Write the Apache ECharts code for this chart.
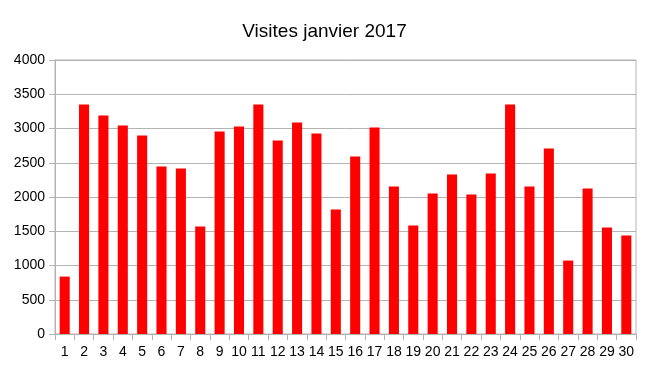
<!DOCTYPE html>
<html>
<head>
<meta charset="utf-8">
<script src="https://cdn.jsdelivr.net/npm/echarts@6/dist/echarts.min.js"></script>
<style>html,body{margin:0;padding:0;background:#fff}#c{width:649px;height:365px}</style>
</head>
<body>
<div id="c"></div>
<script>
const titleText = "Visites janvier 2017";
const days = ["1","2","3","4","5","6","7","8","9","10","11","12","13","14","15","16","17","18","19","20","21","22","23","24","25","26","27","28","29","30"];
const visits = [838,3352,3191,3045,2899,2446,2417,1569,2957,3030,3352,2826,3089,2928,1817,2592,3016,2153,1583,2051,2329,2036,2343,3352,2153,2709,1072,2124,1554,1437];
const yTicks = {min:0, max:4000, interval:500};

const chart = echarts.init(document.getElementById('c'), null, {renderer:'canvas'});
const font = '"Liberation Sans", Arial, sans-serif';
chart.setOption({
  animation:false,
  backgroundColor:'#ffffff',
  title:{text:titleText, left:'center', top:17, textStyle:{fontFamily:font, fontSize:19, fontWeight:'normal', color:'#000'}},
  grid:{left:55, right:13, top:60, bottom:31, show:true, borderColor:'#b3b3b3', borderWidth:1},
  xAxis:{type:'category', data:days,
    axisLine:{lineStyle:{color:'#b3b3b3', width:1}},
    axisTick:{show:true, length:6, lineStyle:{color:'#b3b3b3'}},
    axisLabel:{fontFamily:font, fontSize:14, color:'#000', margin:11, interval:0}},
  yAxis:{type:'value', min:yTicks.min, max:yTicks.max, interval:yTicks.interval,
    axisLine:{show:true, lineStyle:{color:'#b3b3b3', width:1}},
    axisTick:{show:true, length:6, lineStyle:{color:'#b3b3b3'}},
    splitLine:{lineStyle:{color:'#b3b3b3', width:1}},
    axisLabel:{fontFamily:font, fontSize:14, color:'#000', margin:10, formatter:function(v){return String(v);}}},
  series:[{type:'bar', data:visits, barWidth:'52%', itemStyle:{color:'#ff0000'}}]
});
</script>
</body>
</html>
